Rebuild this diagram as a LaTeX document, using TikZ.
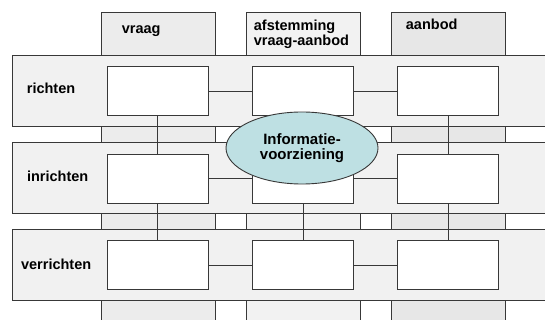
\documentclass[tikz,border=0pt]{standalone}
\usepackage{fontspec}
\setmainfont{Liberation Sans}
\usetikzlibrary{shapes.geometric}
\definecolor{linec}{HTML}{383838}
\definecolor{colA}{HTML}{ECECEC}
\definecolor{colB}{HTML}{F2F2F2}
\definecolor{colC}{HTML}{E7E7E7}
\definecolor{bandc}{HTML}{F1F1F1}
\definecolor{ellc}{HTML}{BEE0E3}
\begin{document}
\begin{tikzpicture}[x=1pt,y=-1pt,
  outline/.style={draw=linec, line width=0.9pt},
  cell/.style={outline, fill=white, minimum width=101pt, minimum height=49pt, inner sep=0pt},
  lbl/.style={font=\bfseries\fontsize{14.5}{15.5}\selectfont, inner sep=0pt, anchor=base west},
  conn/.style={draw=linec, line width=0.8pt}]
\useasboundingbox (0,0) rectangle (545,320);
\clip (0,0) rectangle (545,320);
% columns
\draw[outline, fill=colA] (101.5,12.9) rectangle (215,330);
\draw[outline, fill=colB] (246.5,12.9) rectangle (360,330);
\draw[outline, fill=colC] (391.7,12.9) rectangle (505,330);
% bands
\draw[outline, fill=bandc] (12.7,55.7) rectangle (560,126.7);
\draw[outline, fill=bandc] (12.7,142.7) rectangle (560,213.3);
\draw[outline, fill=bandc] (12.7,229.3) rectangle (560,300);
% column labels
\node[lbl] (vraag) at (121.7,33.3) {vraag};
\node[lbl, anchor=north west, align=left] (afst) at (253.7,19.5) {afstemming\\vraag-aanbod};
\node[lbl] (aanbod) at (405.7,29.3) {aanbod};
% row labels
\node[lbl] (richten) at (26.7,94) {richten};
\node[lbl] (inrichten) at (26.9,181.5) {inrichten};
\node[lbl] (verrichten) at (20.9,269.5) {verrichten};
% cells
\node[cell] (r1) at (157.8,91.3) {};
\node[cell] (r2) at (303.3,91.3) {};
\node[cell] (r3) at (448.2,91.3) {};
\node[cell] (i1) at (157.8,178.7) {};
\node[cell] (i2) at (303.3,178.7) {};
\node[cell] (i3) at (448.2,178.7) {};
\node[cell] (v1) at (157.8,265) {};
\node[cell] (v2) at (303.3,265) {};
\node[cell] (v3) at (448.2,265) {};
% connectors
\draw[conn] (r1) -- (r2); \draw[conn] (r2) -- (r3);
\draw[conn] (i1) -- (i2); \draw[conn] (i2) -- (i3);
\draw[conn] (v1) -- (v2); \draw[conn] (v2) -- (v3);
\draw[conn] (r1) -- (i1); \draw[conn] (i1) -- (v1);
\draw[conn] (r2) -- (i2); \draw[conn] (i2) -- (v2);
\draw[conn] (r3) -- (i3); \draw[conn] (i3) -- (v3);
% ellipse
\node[ellipse, outline, fill=ellc, minimum width=152pt, minimum height=72pt, inner sep=0pt,
      align=center, font=\bfseries\fontsize{15}{15.5}\selectfont] (info) at (302,148) {Informatie-\\voorziening};
\end{tikzpicture}
\end{document}
